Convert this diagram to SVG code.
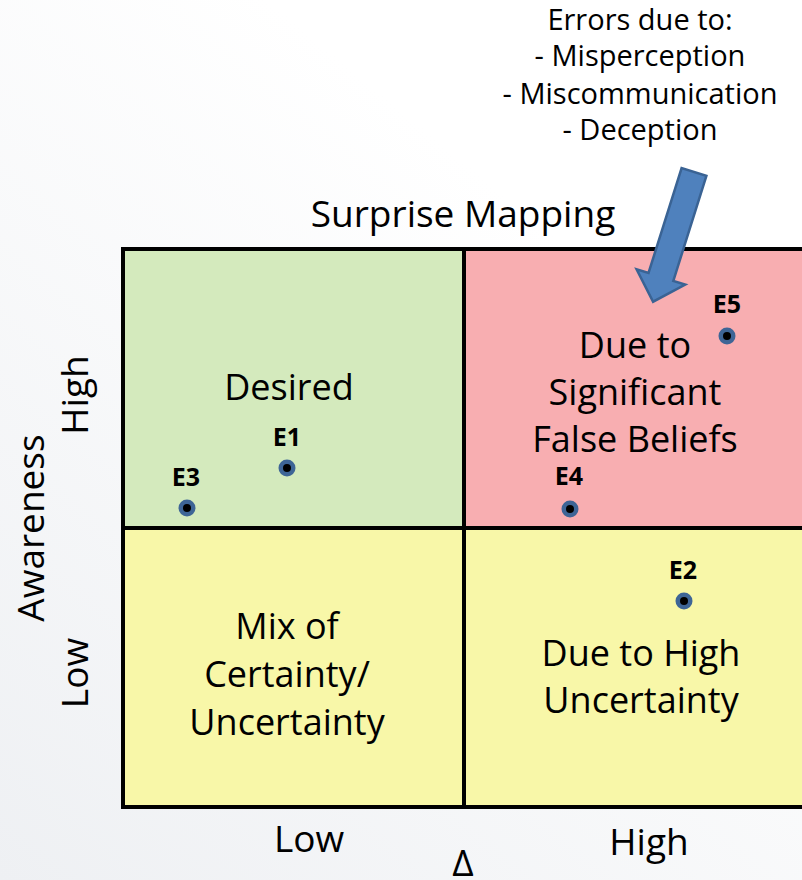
<svg xmlns="http://www.w3.org/2000/svg" width="802" height="880" viewBox="0 0 802 880">
<defs>
<linearGradient id="bg" x1="0" y1="1" x2="0.6" y2="0.2">
<stop offset="0" stop-color="#eef0f3"/>
<stop offset="1" stop-color="#ffffff"/>
</linearGradient>
<g id="dot"><circle r="8.5" fill="#3e6596"/><circle r="4" fill="#000"/></g>
</defs>
<style>
text{font-family:"Open Sans","Liberation Sans",sans-serif;fill:#000;text-anchor:middle}
.big{font-size:36px}
.ax{font-size:37px}
.sm{font-size:29px}
.lab{font-size:25px;font-weight:bold}
.cell{stroke:#000;stroke-width:4}
</style>
<rect width="802" height="880" fill="url(#bg)"/>
<g id="errors-note">
<text class="sm" x="640" y="30">Errors due to:</text>
<text class="sm" x="640" y="66">- Misperception</text>
<text class="sm" x="640" y="104">- Miscommunication</text>
<text class="sm" x="640" y="140">- Deception</text>
</g>
<text class="ax" x="463" y="227">Surprise Mapping</text>
<g id="q-desired">
<rect class="cell" x="123" y="249" width="341" height="279" fill="#d4eabd"/>
<text class="big" x="289" y="400">Desired</text>
</g>
<g id="q-false">
<rect class="cell" x="464" y="249" width="345" height="279" fill="#f8aeb1"/>
<text class="big" x="635" y="358">Due to</text>
<text class="big" x="635" y="405">Significant</text>
<text class="big" x="635" y="452">False Beliefs</text>
</g>
<g id="q-mix">
<rect class="cell" x="123" y="528" width="341" height="279" fill="#f8f7a8"/>
<text class="big" x="287" y="639">Mix of</text>
<text class="big" x="287" y="687">Certainty/</text>
<text class="big" x="287" y="735">Uncertainty</text>
</g>
<g id="q-uncert">
<rect class="cell" x="464" y="528" width="345" height="279" fill="#f8f7a8"/>
<text class="big" x="641" y="666">Due to High</text>
<text class="big" x="641" y="713">Uncertainty</text>
</g>
<g id="E1"><text class="lab" x="287" y="446">E1</text><use href="#dot" x="287" y="468"/></g>
<g id="E3"><text class="lab" x="186" y="486">E3</text><use href="#dot" x="187" y="508"/></g>
<g id="E5"><text class="lab" x="727" y="313">E5</text><use href="#dot" x="727" y="336"/></g>
<g id="E4"><text class="lab" x="569" y="485">E4</text><use href="#dot" x="570" y="509"/></g>
<g id="E2"><text class="lab" x="683" y="579">E2</text><use href="#dot" x="684" y="601"/></g>
<g id="connectors">
<polygon transform="translate(694,172) rotate(107.5)" points="0,-13 110,-13 110,-25.5 136,0 110,25.5 110,13 0,13" fill="#4f81bd" stroke="#3a6394" stroke-width="2.5" stroke-linejoin="miter"/>
</g>
<g id="axes">
<text class="ax" x="309" y="852">Low</text>
<text class="ax" x="649" y="855">High</text>
<text class="ax" x="463" y="876">Δ</text>
<text class="ax" transform="translate(88,395) rotate(-90)">High</text>
<text class="ax" transform="translate(88,673) rotate(-90)">Low</text>
<text class="ax" font-size="36" transform="translate(44,528) rotate(-90)">Awareness</text>
</g>
</svg>
